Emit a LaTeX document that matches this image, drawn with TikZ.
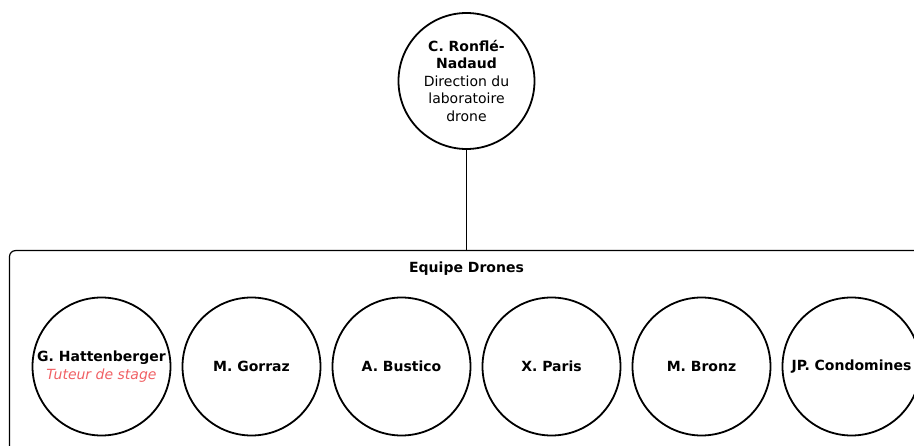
\documentclass[tikz,border=0pt]{standalone}
\usepackage{fontspec}
\setmainfont{DejaVu Sans}
\definecolor{tutor}{RGB}{240,96,100}
\begin{document}
\begin{tikzpicture}[x=1pt,y=-1pt,
  person/.style={draw=black, line width=1.8pt, circle, minimum size=138pt, inner sep=0pt, align=center,
    font=\fontsize{14}{17.5}\selectfont},
  container/.style={draw=black, line width=1.2pt, rounded corners=6pt, minimum width=914pt, minimum height=240pt, inner sep=0pt},
  link/.style={draw=black, line width=1.2pt},
  title/.style={font=\fontsize{14}{17}\selectfont\bfseries}
]
\useasboundingbox (0,0) rectangle (914,446);
\clip (0,0) rectangle (914,446);
\node[container, anchor=north] (team) at (466.5,250) {};
\node[title] (teamlabel) at (466.5,269) {Equipe Drones};
\node[person, minimum size=136pt] (chef) at (466.5,81) {\textbf{C. Ronflé-}\\\textbf{Nadaud}\\Direction du\\laboratoire\\drone};
\draw[link] (chef) -- (team.north);
\node[person] (gh) at (101.5,366.5) {\textbf{G. Hattenberger}\\\textcolor{tutor}{\itshape Tuteur de stage}};
\node[person] (mg) at (251.5,366.5) {\textbf{M. Gorraz}};
\node[person] (ab) at (401.5,366.5) {\textbf{A. Bustico}};
\node[person] (xp) at (551.5,366.5) {\textbf{X. Paris}};
\node[person] (mb) at (701.5,366.5) {\textbf{M. Bronz}};
\node[person] (jc) at (851.5,366.5) {\textbf{JP. Condomines}};
\end{tikzpicture}
\end{document}
